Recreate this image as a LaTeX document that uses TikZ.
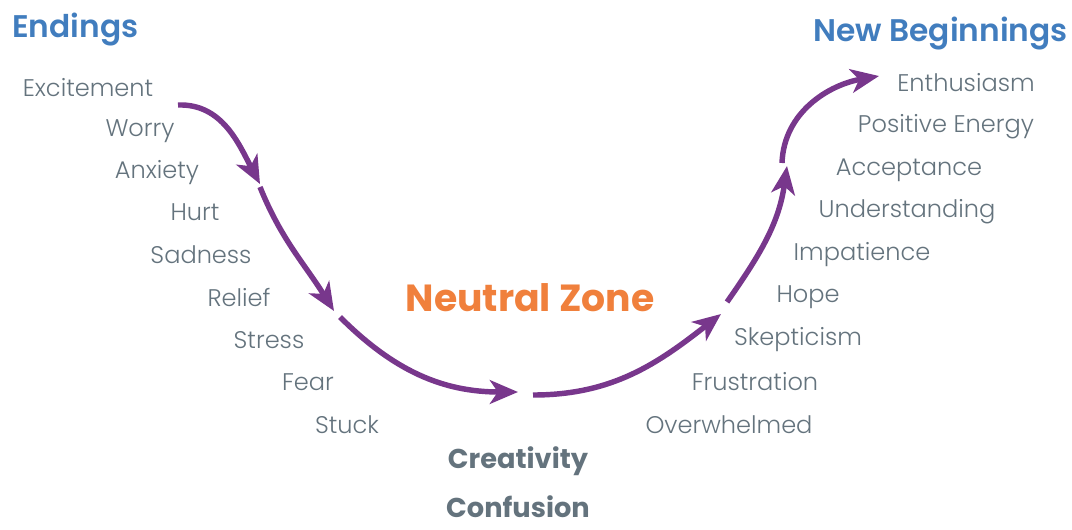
\documentclass[tikz,border=0pt]{standalone}
\usepackage{fontspec}
\usepackage{tikz}
\usetikzlibrary{arrows.meta}
\setmainfont{Poppins}
\newfontfamily\lightfont{Poppins Light}
\newfontfamily\semifont{Poppins SemiBold}
\newfontfamily\boldfont{Poppins Bold}
\definecolor{headblue}{RGB}{65,125,190}
\definecolor{zoneorange}{RGB}{240,128,60}
\definecolor{feelgray}{RGB}{100,115,125}
\definecolor{pathpurple}{RGB}{120,55,140}

\begin{document}
\begin{tikzpicture}[x=0.02cm,y=-0.02cm,
    feeling/.style={text=feelgray,font=\lightfont\fontsize{13.7}{16}\selectfont,inner sep=0pt},
    heading/.style={text=headblue,font=\semifont\fontsize{17.8}{21}\selectfont,inner sep=0pt},
    zone/.style={text=feelgray,font=\boldfont\fontsize{15.5}{18}\selectfont,inner sep=0pt},
    flow/.style={pathpurple,line width=3.1pt,-{Stealth[length=16pt,width=13.5pt,inset=4.5pt]}}]
    \useasboundingbox (0,0) rectangle (1072,529);

    % Headings
    \node[heading,anchor=west] (endings) at (12,30) {Endings};
    \node[heading,anchor=east] (newbeg) at (1068,33) {New Beginnings};
    \node[text=zoneorange,font=\boldfont\fontsize{21.5}{25}\selectfont,inner sep=0pt] (neutral) at (530,298) {Neutral Zone};

    % Feelings on the way down
    \node[feeling] (excite) at (88,88) {Excitement};
    \node[feeling] (worry) at (140,131) {Worry};
    \node[feeling] (anxiety) at (157,173) {Anxiety};
    \node[feeling] (hurt) at (195,212) {Hurt};
    \node[feeling] (sad) at (201,255) {Sadness};
    \node[feeling] (relief) at (239,297) {Relief};
    \node[feeling] (stress) at (269,340) {Stress};
    \node[feeling] (fear) at (308,382) {Fear};
    \node[feeling] (stuck) at (347,425) {Stuck};

    % Bottom of the curve
    \node[zone] (create) at (518,461) {Creativity};
    \node[zone] (confuse) at (518,507) {Confusion};

    % Feelings on the way up
    \node[feeling] (enthus) at (966,83) {Enthusiasm};
    \node[feeling] (posen) at (946,127) {Positive Energy};
    \node[feeling] (accept) at (909,170) {Acceptance};
    \node[feeling] (underst) at (907,212) {Understanding};
    \node[feeling] (impat) at (862,255) {Impatience};
    \node[feeling] (hope) at (808,297) {Hope};
    \node[feeling] (skept) at (798,340) {Skepticism};
    \node[feeling] (frust) at (755,382) {Frustration};
    \node[feeling] (overw) at (729,425) {Overwhelmed};

    % Ends of the arrow pieces
    \coordinate (s1) at (178,105); \coordinate (e1) at (260,184);
    \coordinate (s2) at (260,187); \coordinate (e2) at (334,311);
    \coordinate (s3) at (340,317); \coordinate (e3) at (518,392);
    \coordinate (s4) at (533,395); \coordinate (e4) at (721,314);
    \coordinate (s5) at (727,302); \coordinate (e5) at (787,166);
    \coordinate (s6) at (782,163); \coordinate (e6) at (879,76);

    % Draw the curve in pieces
    \draw[flow] (s1) to[out=2,in=118] (e1);
    \draw[flow] (s2) to[out=-68,in=122] (e2);
    \draw[flow] (s3) to[out=-45,in=180] (e3);
    \draw[flow] (s4) to[out=0,in=218] (e4);
    \draw[flow] (s5) to[out=55,in=-98] (e5);
    \draw[flow] (s6) to[out=88,in=190] (e6);
\end{tikzpicture}
\end{document}
